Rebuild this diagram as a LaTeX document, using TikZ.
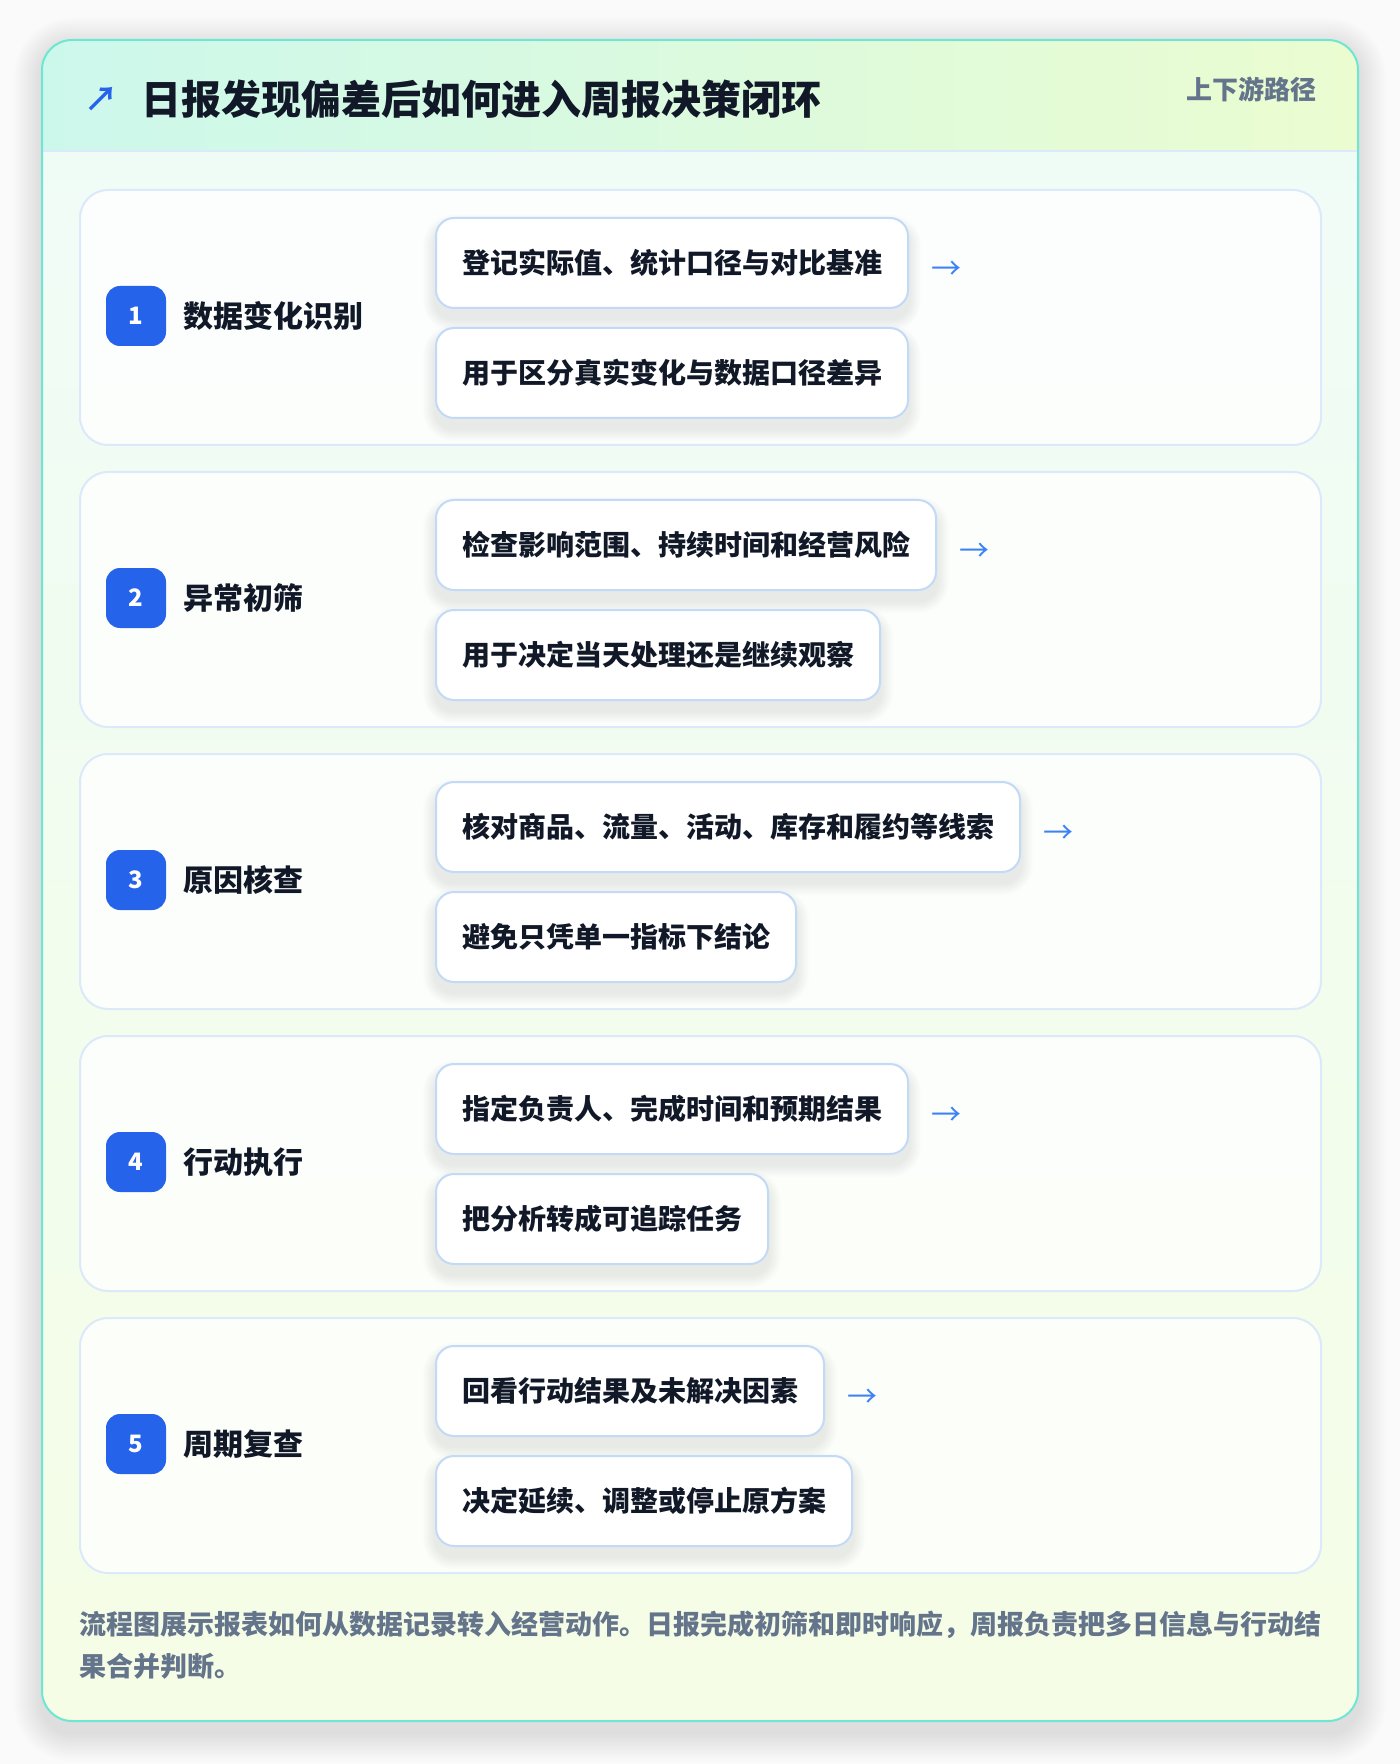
\documentclass[tikz,border=0pt]{standalone}
\usepackage{fontspec}
\setmainfont{Noto Sans CJK SC}[BoldFont={Noto Sans CJK SC Bold}]
\newfontfamily\heavyfont{Noto Sans CJK SC Black}
\usetikzlibrary{positioning}
\definecolor{ink}{HTML}{111827}
\definecolor{muted}{HTML}{64748B}
\definecolor{badge}{HTML}{2563EB}
\definecolor{arrowblue}{HTML}{3B82F6}
\definecolor{frame}{HTML}{6EE7D2}
\definecolor{headL}{HTML}{CCF8EC}
\definecolor{headR}{HTML}{EBFCD0}
\definecolor{bodyT}{HTML}{EFFCF7}
\definecolor{bodyB}{HTML}{F5FDE6}
\definecolor{cardline}{HTML}{DBE9FB}
\definecolor{boxline}{HTML}{C3DAF7}
\definecolor{pagebg}{HTML}{FAFAFB}
\tikzset{
  card/.style={draw=cardline, line width=1pt, rounded corners=14pt, fill=white, fill opacity=0.75,
    minimum width=620.5pt, minimum height=127.5pt, anchor=north west, inner sep=0pt},
  numbox/.style={fill=badge, text=white, rounded corners=7pt, minimum size=30pt, inner sep=0pt,
    font=\heavyfont\fontsize{12pt}{14pt}\selectfont},
  steptitle/.style={anchor=west, inner sep=0pt, text=ink, font=\heavyfont\fontsize{15pt}{18pt}\selectfont},
  stepbox/.style={draw=boxline, line width=1pt, rounded corners=9pt, fill=white, anchor=north west,
    inner xsep=13pt, inner ysep=0pt, minimum height=45pt, text=ink,
    font=\heavyfont\fontsize{14pt}{17pt}\selectfont},
  nextarrow/.style={inner sep=0pt, text=arrowblue, font=\fontsize{15pt}{18pt}\selectfont},
}
% soft shadow under a node: \softshadow{node}{drop}
\newcommand\softshadow[2]{%
  \foreach \k in {1,...,10}
    \fill[black, opacity=0.006, rounded corners=9pt+\k*0.6pt]
      ([xshift=-\k*0.6pt, yshift=-#2+\k*0.6pt]#1.north west) rectangle ([xshift=\k*0.6pt, yshift=-#2-\k*0.6pt]#1.south east);}
\begin{document}
\begin{tikzpicture}[x=0.5pt,y=-0.5pt]
		\useasboundingbox (0,0) rectangle (1400,1764);
		\fill[pagebg] (0,0) rectangle (1400,1764);
		%panel shadow
		\foreach \k in {1,...,14}
			\fill[black, opacity=0.007, rounded corners=15pt+\k*1pt] (42-\k*2,46-\k*2) rectangle (1358+\k*2,1733+\k*2);
		\fill[top color=bodyT, bottom color=bodyB, rounded corners=15pt] (42,40) rectangle (1358,1721);
		\begin{scope}
			\clip[rounded corners=15pt] (42,40) rectangle (1358,1721);
			\fill[left color=headL, right color=headR] (42,40) rectangle (1358,151);
			\draw[cardline, line width=1.2pt] (42,151) -- (1358,151);
		\end{scope}
		\draw[frame, line width=1pt, rounded corners=15pt] (42,40) rectangle (1358,1721);
		%header
		\node[anchor=west, inner sep=0pt, text=badge, font=\fontsize{17pt}{18pt}\selectfont\bfseries] (icon) at (84,99) {↗};
		\node[anchor=west, inner sep=0pt, text=ink, font=\heavyfont\fontsize{20pt}{24pt}\selectfont] (title) at (141,99) {日报发现偏差后如何进入周报决策闭环};
		\node[anchor=east, inner sep=0pt, text=muted, font=\heavyfont\fontsize{13pt}{16pt}\selectfont] (tag) at (1317,89) {上下游路径};
		%steps
		\foreach \i/\stitle/\ta/\tb in {
			1/数据变化识别/登记实际值、统计口径与对比基准/用于区分真实变化与数据口径差异,
			2/异常初筛/检查影响范围、持续时间和经营风险/用于决定当天处理还是继续观察,
			3/原因核查/核对商品、流量、活动、库存和履约等线索/避免只凭单一指标下结论,
			4/行动执行/指定负责人、完成时间和预期结果/把分析转成可追踪任务,
			5/周期复查/回看行动结果及未解决因素/决定延续、调整或停止原方案}{
			\pgfmathsetmacro\ytop{189+282*(\i-1)}
			\node[card] (card\i) at (79,\ytop) {};
			\node[numbox] (num\i) at (136,\ytop+127) {\i};
			\node[steptitle] (name\i) at (183,\ytop+127) {\stitle};
			\node[stepbox, opacity=0] (a\i) at (435,\ytop+28) {\ta};
			\node[stepbox, opacity=0] (b\i) at (435,\ytop+138) {\tb};
			\softshadow{a\i}{5pt}
			\softshadow{b\i}{5pt}
			\node[stepbox, anchor=center] at (a\i.center) {\ta};
			\node[stepbox, anchor=center] at (b\i.center) {\tb};
			\node[nextarrow, right=11pt of a\i.east, anchor=west, yshift=-3.5pt] (arr\i) {→};
		}
		%footer
		\node[anchor=north west, inner sep=0pt, align=left, text=muted,
			font=\heavyfont\fontsize{13.5pt}{21pt}\selectfont] (note) at (79,1611)
			{流程图展示报表如何从数据记录转入经营动作。日报完成初筛和即时响应，周报负责把多日信息与行动结\\果合并判断。};
	\end{tikzpicture}
\end{document}
